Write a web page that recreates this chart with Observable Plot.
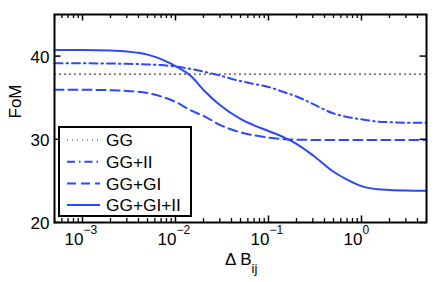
<!DOCTYPE html>
<html><head><meta charset="utf-8">
<script src="https://cdn.jsdelivr.net/npm/d3@7"></script>
<script src="https://cdn.jsdelivr.net/npm/@observablehq/plot@0.6"></script>
<style>body{margin:0;background:#fff;font-family:"Liberation Sans",Arial,sans-serif;} #chart{width:436px;height:282px;}</style>
</head><body><div id="chart"></div>
<script>
// Data
const dB = [5e-4, 1e-3, 2e-3, 3e-3, 5e-3, 7e-3, 1e-2, 1.5e-2, 2e-2, 3e-2, 5e-2, 7e-2, 0.1, 0.15, 0.2, 0.3, 0.5, 0.7, 1, 1.5, 2, 3, 5];
const seriesNames = ["GG", "GG+II", "GG+GI", "GG+GI+II"];
const fomGG     = [37.84, 37.84, 37.84, 37.84, 37.84, 37.84, 37.84, 37.84, 37.84, 37.84, 37.84, 37.84, 37.84, 37.84, 37.84, 37.84, 37.84, 37.84, 37.84, 37.84, 37.84, 37.84, 37.84];
const fomGGII   = [39.13, 39.13, 39.1, 39.08, 39.0, 38.92, 38.74, 38.44, 38.14, 37.66, 37.0, 36.65, 36.29, 35.63, 35.15, 34.25, 33.11, 32.69, 32.4, 32.12, 32.06, 32.0, 31.98];
const fomGGGI   = [35.96, 35.95, 35.9, 35.81, 35.57, 35.15, 34.5, 33.41, 32.81, 31.74, 30.84, 30.48, 30.2, 30.0, 29.95, 29.93, 29.93, 29.93, 29.93, 29.93, 29.93, 29.93, 29.93];
const fomGGGIII = [40.72, 40.72, 40.66, 40.54, 40.18, 39.64, 38.8, 37.49, 35.93, 34.13, 32.46, 31.68, 31.0, 30.18, 29.46, 28.08, 26.1, 25.15, 24.37, 24.0, 23.92, 23.86, 23.83];
const majorTicksX = [1e-3, 1e-2, 1e-1, 1];
const majorExponents = ["\u22123", "\u22122", "\u22121", "0"];
const yTicks = [20, 30, 40];
const minorTicksX = [];
for (let e = -4; e <= 0; e++) for (let m = 2; m <= 9; m++) { const v = m * Math.pow(10, e); if (v >= 5e-4 && v <= 5) minorTicksX.push(v); }

// Styles
const blue = "#2d46ff";
const styles = [
  {stroke: "#333", strokeWidth: 1.2, strokeDasharray: "1,4"},
  {stroke: blue, strokeWidth: 2, strokeDasharray: "8,4,1.5,4"},
  {stroke: blue, strokeWidth: 2, strokeDasharray: "9,5"},
  {stroke: blue, strokeWidth: 2, strokeDasharray: null}
];
const allValues = [fomGG, fomGGII, fomGGGI, fomGGGIII];
const seriesRows = allValues.map((vals, i) => dB.map((x, j) => ({x, y: vals[j], series: seriesNames[i]})));

const W = 436, H = 282, mL = 54, mR = 10, mT = 14, mB = 60;
const innerW = W - mL - mR, innerH = H - mT - mB;
const fs = 17;

const plot = Plot.plot({
  width: W, height: H,
  marginLeft: mL, marginRight: mR, marginTop: mT, marginBottom: mB,
  style: {fontFamily: "'Liberation Sans', Arial, sans-serif", background: "white", overflow: "visible"},
  x: {type: "log", domain: [5e-4, 5], axis: null},
  y: {domain: [20, 45], axis: null},
  marks: [
    ...seriesRows.map((rows, i) => Plot.line(rows, {x: "x", y: "y", curve: "monotone-x", ...styles[i]})),
    // inner ticks
    Plot.tickX(minorTicksX, {x: d => d, insetTop: innerH - 4, stroke: "black", strokeWidth: 1.3}),
    Plot.tickX(minorTicksX, {x: d => d, insetBottom: innerH - 4, stroke: "black", strokeWidth: 1.3}),
    Plot.tickX(majorTicksX, {x: d => d, insetTop: innerH - 6.5, stroke: "black", strokeWidth: 1.5}),
    Plot.tickX(majorTicksX, {x: d => d, insetBottom: innerH - 6.5, stroke: "black", strokeWidth: 1.5}),
    Plot.tickY(yTicks, {y: d => d, insetRight: innerW - 6.5, stroke: "black", strokeWidth: 1.5}),
    Plot.tickY(yTicks, {y: d => d, insetLeft: innerW - 6.5, stroke: "black", strokeWidth: 1.5}),
    Plot.frame({stroke: "black", strokeWidth: 2}),
    // tick labels
    Plot.text(yTicks, {y: d => d, text: d => String(d), frameAnchor: "left", textAnchor: "end", dx: -5, dy: 1, fontSize: fs, fill: "black"}),
    Plot.text(majorTicksX, {x: d => d, text: () => "10", frameAnchor: "bottom", textAnchor: "end", dx: 1, dy: 22, fontSize: fs, fill: "black"}),
    Plot.text(majorTicksX, {x: d => d, text: (d, i) => majorExponents[i], frameAnchor: "bottom", textAnchor: "start", dx: 1, dy: 11.5, fontSize: 12, fill: "black"}),
    // axis labels
    Plot.text(["FoM"], {text: d => d, frameAnchor: "left", rotate: -90, dx: -39, fontSize: fs, fill: "black"}),
    Plot.text(["\u0394 B"], {text: d => d, frameAnchor: "bottom", textAnchor: "end", dx: 11, dy: 42, fontSize: fs, fill: "black"}),
    Plot.text(["ij"], {text: d => d, frameAnchor: "bottom", textAnchor: "start", dx: 11, dy: 50.5, fontSize: 13, fill: "black"})
  ]
});

document.getElementById("chart").appendChild(plot);

// Legend (drawn inside the plot area)
const svg = d3.select(plot);
const lg = svg.append("g").attr("class", "legend").attr("text-anchor", "start");
const lx = 59, ly = 127, lw = 132, lh = 89;
lg.append("rect").attr("x", lx).attr("y", ly).attr("width", lw).attr("height", lh)
  .attr("fill", "white").attr("stroke", "black").attr("stroke-width", 2);
seriesNames.forEach((name, i) => {
  const cy = ly + 13 + i * 21.7;
  lg.append("line").attr("x1", lx + 8).attr("x2", lx + 41).attr("y1", cy).attr("y2", cy)
    .attr("stroke", styles[i].stroke).attr("stroke-width", styles[i].strokeWidth)
    .attr("stroke-dasharray", styles[i].strokeDasharray);
  lg.append("text").attr("x", lx + 47).attr("y", cy).attr("dy", "0.36em")
    .attr("text-anchor", "start").attr("font-size", 17.3).attr("fill", "black").text(name);
});
</script>
</body></html>
